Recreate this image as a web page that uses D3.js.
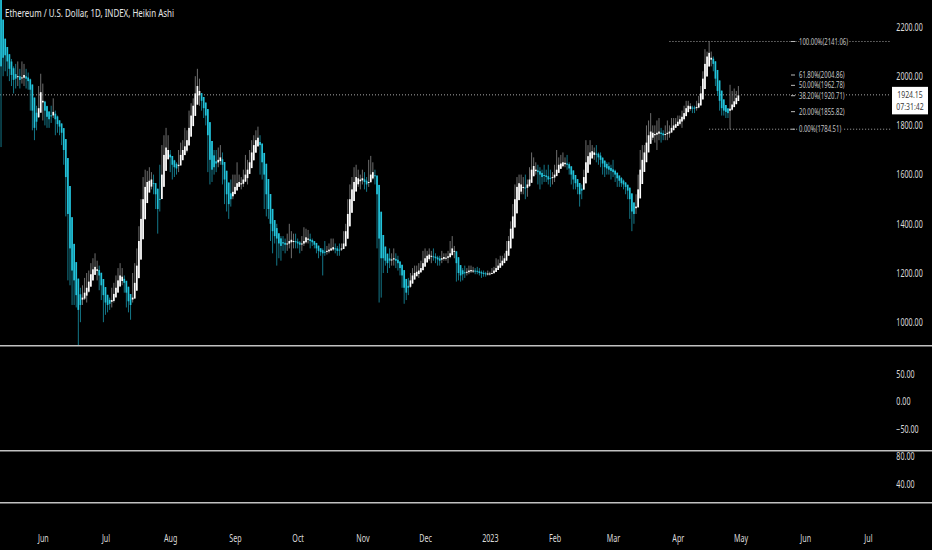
<!DOCTYPE html>
<html>
<head>
<meta charset="utf-8">
<script src="https://cdn.jsdelivr.net/npm/d3@7"></script>
<style>
  html, body { margin: 0; padding: 0; background: #000; }
  svg { display: block; }
</style>
</head>
<body>
<div id="chart"></div>
<script>
// ==============================
// DATA (Heikin Ashi daily, 2022-05-12 .. 2023-04-30)
// ==============================
const TITLE = "Ethereum / U.S. Dollar, 1D, INDEX, Heikin Ashi";
const FIRST_DAY = Date.UTC(2022, 4, 12);
const firstOpen = 2420;

const haClose = [
  // May 12-31
  2040, 2075, 2085, 2060, 2030, 2005, 1985, 1990, 2000, 1985, 1995, 2005, 1990, 1980, 1945, 1860, 1790, 1815, 1870, 1935,
  // Jun
  1900, 1860, 1835, 1825, 1840, 1855, 1825, 1805, 1795, 1770, 1700, 1590, 1440, 1300, 1210, 1170, 1110, 1050, 1070, 1100,
  1120, 1140, 1165, 1195, 1215, 1225, 1215, 1190, 1150, 1110,
  // Jul
  1080, 1070, 1075, 1090, 1115, 1140, 1170, 1190, 1185, 1160, 1120, 1085, 1070, 1100, 1160, 1230, 1330, 1420, 1500, 1550,
  1570, 1575, 1580, 1565, 1520, 1460, 1500, 1600, 1680, 1710, 1700,
  // Aug
  1670, 1640, 1630, 1625, 1640, 1680, 1700, 1715, 1740, 1790, 1840, 1880, 1930, 1960, 1940, 1900, 1870, 1840, 1760, 1660,
  1620, 1630, 1645, 1660, 1670, 1640, 1580, 1520, 1480, 1500, 1530,
  // Sep
  1550, 1565, 1570, 1565, 1580, 1600, 1620, 1650, 1690, 1720, 1740, 1750, 1720, 1650, 1600, 1520, 1460, 1400, 1370, 1350,
  1340, 1320, 1310, 1320, 1315, 1320, 1330, 1335, 1330, 1325,
  // Oct
  1320, 1315, 1320, 1330, 1345, 1340, 1330, 1325, 1315, 1300, 1290, 1285, 1280, 1285, 1290, 1295, 1300, 1305, 1300, 1290,
  1295, 1300, 1320, 1370, 1440, 1500, 1540, 1570, 1590, 1585, 1580,
  // Nov
  1585, 1570, 1560, 1570, 1600, 1610, 1595, 1520, 1340, 1260, 1260, 1250, 1240, 1250, 1255, 1260, 1250, 1240, 1220, 1190,
  1140, 1120, 1140, 1170, 1190, 1200, 1205, 1210, 1220, 1240,
  // Dec
  1260, 1270, 1275, 1270, 1265, 1260, 1255, 1250, 1260, 1265, 1262, 1268, 1280, 1300, 1290, 1240, 1200, 1190, 1195, 1200,
  1205, 1210, 1212, 1210, 1208, 1205, 1200, 1198, 1196, 1195, 1198,
  // Jan
  1198, 1200, 1210, 1220, 1230, 1240, 1250, 1260, 1290, 1330, 1380, 1430, 1500, 1550, 1565, 1560, 1550, 1545, 1560, 1580,
  1620, 1635, 1620, 1610, 1600, 1590, 1595, 1590, 1580, 1585, 1590,
  // Feb
  1600, 1620, 1640, 1645, 1650, 1648, 1640, 1625, 1600, 1580, 1565, 1550, 1520, 1535, 1590, 1650, 1675, 1690, 1695, 1690,
  1685, 1670, 1660, 1645, 1630, 1625, 1620, 1615,
  // Mar
  1610, 1600, 1585, 1575, 1565, 1560, 1550, 1535, 1500, 1450, 1440, 1470, 1540, 1620, 1660, 1690, 1730, 1760, 1775, 1770,
  1765, 1770, 1775, 1765, 1760, 1765, 1770, 1775, 1790, 1800, 1805,
  // Apr
  1815, 1825, 1835, 1850, 1870, 1880, 1878, 1872, 1868, 1875, 1890, 1930, 1990, 2050, 2080, 2095, 2075, 2050, 1990, 1940,
  1900, 1870, 1860, 1855, 1850, 1868, 1885, 1898, 1912, 1922
];

const haHigh = [
  2320, 2150, 2140, 2110, 2090, 2070, 2040, 2050, 2060, 2030, 2060, 2050, 2030, 2015, 1990, 1930, 1840, 1880, 1960, 2010,
  1970, 1900, 1880, 1850, 1880, 1910, 1860, 1840, 1820, 1800, 1740, 1620, 1480, 1320, 1260, 1200, 1140, 1090, 1140, 1150,
  1180, 1200, 1210, 1240, 1260, 1280, 1250, 1230, 1180, 1140,
  1110, 1090, 1100, 1140, 1160, 1190, 1220, 1240, 1220, 1190, 1150, 1110, 1100, 1200, 1240, 1300, 1390, 1500, 1590, 1620,
  1615, 1630, 1610, 1600, 1560, 1490, 1640, 1720, 1760, 1790, 1760,
  1700, 1660, 1660, 1650, 1700, 1730, 1740, 1790, 1780, 1860, 1890, 1910, 2000, 2030, 1990, 1930, 1900, 1870, 1790, 1690,
  1660, 1700, 1700, 1710, 1720, 1690, 1610, 1550, 1520, 1580, 1600,
  1600, 1650, 1600, 1590, 1620, 1680, 1660, 1700, 1740, 1760, 1780, 1795, 1760, 1680, 1630, 1550, 1480, 1430, 1400, 1390,
  1400, 1360, 1350, 1350, 1340, 1360, 1400, 1370, 1360, 1360,
  1340, 1330, 1350, 1386, 1380, 1375, 1360, 1340, 1330, 1320, 1310, 1300, 1300, 1330, 1310, 1320, 1340, 1340, 1320, 1310,
  1320, 1320, 1370, 1400, 1500, 1560, 1590, 1630, 1640, 1620, 1600,
  1620, 1610, 1590, 1660, 1676, 1650, 1620, 1560, 1380, 1340, 1300, 1280, 1270, 1300, 1280, 1300, 1280, 1270, 1240, 1210,
  1160, 1150, 1180, 1200, 1220, 1230, 1230, 1240, 1250, 1290,
  1300, 1290, 1300, 1290, 1300, 1280, 1270, 1270, 1290, 1280, 1280, 1290, 1330, 1350, 1310, 1270, 1220, 1200, 1220, 1230,
  1220, 1230, 1230, 1225, 1220, 1225, 1220, 1210, 1210, 1205, 1210,
  1205, 1220, 1225, 1260, 1255, 1270, 1270, 1280, 1330, 1350, 1410, 1480, 1560, 1590, 1600, 1600, 1590, 1600, 1580, 1630,
  1690, 1670, 1650, 1640, 1630, 1620, 1640, 1620, 1640, 1620, 1610,
  1640, 1700, 1670, 1680, 1690, 1670, 1680, 1650, 1630, 1600, 1590, 1580, 1560, 1560, 1620, 1740, 1720, 1740, 1720, 1710,
  1720, 1690, 1690, 1670, 1650, 1650, 1650, 1640,
  1660, 1620, 1600, 1590, 1590, 1580, 1570, 1550, 1530, 1470, 1460, 1520, 1600, 1700, 1720, 1720, 1800, 1820, 1850, 1800,
  1800, 1820, 1830, 1790, 1780, 1800, 1820, 1800, 1830, 1830, 1830,
  1840, 1840, 1860, 1880, 1900, 1900, 1890, 1880, 1880, 1900, 1920, 1960, 2020, 2110, 2100, 2141.06, 2100, 2080, 2040, 1960,
  1940, 1890, 1880, 1880, 1870, 1965, 1940, 1950, 1940, 1960
];

const haLow = [
  1712, 2000, 2020, 2000, 1980, 1960, 1930, 1950, 1960, 1950, 1970, 1960, 1950, 1945, 1860, 1780, 1740, 1780, 1830, 1900,
  1820, 1800, 1790, 1790, 1810, 1830, 1760, 1770, 1760, 1720, 1640, 1430, 1170, 1150, 1070, 1070, 1060, 880, 1000, 1070,
  1090, 1080, 1120, 1150, 1180, 1200, 1170, 1130, 1090, 1000,
  1030, 1040, 1050, 1060, 1080, 1110, 1140, 1160, 1150, 1120, 1060, 1040, 1010, 1080, 1130, 1190, 1300, 1380, 1460, 1500,
  1520, 1540, 1540, 1520, 1460, 1360, 1450, 1560, 1640, 1680, 1660,
  1610, 1580, 1590, 1600, 1610, 1650, 1670, 1690, 1690, 1740, 1800, 1850, 1900, 1920, 1880, 1860, 1830, 1800, 1610, 1560,
  1570, 1600, 1610, 1630, 1640, 1560, 1480, 1450, 1420, 1470, 1500,
  1520, 1540, 1550, 1540, 1550, 1570, 1560, 1620, 1660, 1690, 1710, 1720, 1600, 1580, 1460, 1430, 1420, 1330, 1280, 1320,
  1230, 1260, 1250, 1290, 1280, 1290, 1300, 1260, 1300, 1300,
  1300, 1280, 1290, 1310, 1320, 1320, 1300, 1310, 1300, 1280, 1260, 1270, 1190, 1270, 1275, 1280, 1290, 1290, 1280, 1270,
  1270, 1290, 1300, 1340, 1400, 1460, 1500, 1540, 1560, 1550, 1540,
  1560, 1540, 1530, 1550, 1580, 1580, 1560, 1300, 1080, 1100, 1200, 1230, 1200, 1220, 1230, 1230, 1220, 1210, 1190, 1140,
  1075, 1090, 1110, 1140, 1170, 1180, 1190, 1180, 1200, 1220,
  1240, 1250, 1250, 1240, 1250, 1240, 1230, 1230, 1240, 1250, 1250, 1240, 1260, 1280, 1260, 1165, 1170, 1165, 1170, 1180,
  1190, 1195, 1200, 1200, 1195, 1195, 1190, 1180, 1185, 1185, 1190,
  1190, 1195, 1200, 1210, 1220, 1225, 1240, 1250, 1270, 1300, 1320, 1380, 1420, 1480, 1530, 1520, 1520, 1500, 1510, 1550,
  1600, 1610, 1600, 1560, 1540, 1560, 1570, 1570, 1560, 1550, 1560,
  1570, 1600, 1620, 1630, 1630, 1630, 1620, 1600, 1560, 1540, 1540, 1520, 1470, 1500, 1560, 1620, 1650, 1660, 1670, 1660,
  1650, 1640, 1630, 1600, 1590, 1600, 1600, 1580,
  1590, 1570, 1550, 1550, 1550, 1540, 1520, 1500, 1420, 1370, 1400, 1440, 1500, 1580, 1630, 1650, 1700, 1740, 1750, 1740,
  1730, 1700, 1740, 1730, 1740, 1740, 1740, 1750, 1770, 1780, 1790,
  1800, 1800, 1790, 1820, 1850, 1860, 1860, 1850, 1850, 1860, 1870, 1880, 1920, 1980, 2050, 2060, 2040, 2020, 1960, 1920,
  1860, 1840, 1840, 1830, 1830, 1784.51, 1860, 1880, 1890, 1900
];

// Fibonacci retracement
const fibRatios = [1, 0.618, 0.5, 0.382, 0.2, 0];
const fibPrices = [2141.06, 2004.86, 1962.78, 1920.71, 1855.82, 1784.51];
const fib100Start = Date.UTC(2023, 2, 28);
const fib0Start = Date.UTC(2023, 3, 16);

// Last price label
const lastPrice = 1924.15;
const countdown = "07:31:42";

// Axis ticks
const priceTicks = [1000, 1200, 1400, 1600, 1800, 2000, 2200];
const oscTicks = [-50, 0, 50];
const lowerTicks = [40, 80];
const monthTicks = d3.utcMonth.range(new Date(Date.UTC(2022, 5, 1)), new Date(Date.UTC(2023, 7, 1)));

// ==============================
// LAYOUT
// ==============================
const WIDTH = 932, HEIGHT = 550;
const PLOT_RIGHT = 891;
const PANE1_BOTTOM = 345.7, PANE2_BOTTOM = 450.7, PANE3_BOTTOM = 502.7;
const UP_BODY = "#ffffff", UP_WICK = "#7a7a7a";
const DOWN_BODY = "#22c3db", DOWN_WICK = "#168597";
const TEXT_COLOR = "#dcdcdc";
const FONT = "'Noto Sans', sans-serif";
const NARROW = 0.68;

const svg = d3.select("#chart")
  .append("svg")
  .attr("width", WIDTH)
  .attr("height", HEIGHT)
  .attr("viewBox", `0 0 ${WIDTH} ${HEIGHT}`)
  .style("background-color", "#000");

const x = d3.scaleUtc()
  .domain([new Date(Date.UTC(2022, 4, 11, 12)), new Date(Date.UTC(2023, 6, 11, 14))])
  .range([0, 890]);

const y = d3.scaleLinear().domain([1000, 2200]).range([322.2, 27]);
const yOsc = d3.scaleLinear().domain([-50, 50]).range([429, 374]);
const yLower = d3.scaleLinear().domain([40, 80]).range([484, 456]);

// Build Heikin Ashi candles (open = mid of previous body)
const candles = [];
haClose.forEach((c, i) => {
  const open = i === 0 ? firstOpen : (candles[i - 1].open + candles[i - 1].close) / 2;
  candles.push({
    date: new Date(FIRST_DAY + i * 864e5),
    open,
    close: c,
    high: Math.max(haHigh[i], open, c),
    low: Math.min(haLow[i], open, c)
  });
});

// Clip for main pane
svg.append("defs").append("clipPath").attr("id", "clip-main")
  .append("rect").attr("x", 0).attr("y", 0).attr("width", PLOT_RIGHT).attr("height", PANE1_BOTTOM);

const g = svg.append("g").attr("clip-path", "url(#clip-main)");

// Current price dotted line
g.append("line")
  .attr("x1", 0).attr("x2", PLOT_RIGHT)
  .attr("y1", y(lastPrice)).attr("y2", y(lastPrice))
  .attr("stroke", "#a8a8a8").attr("stroke-width", 1)
  .attr("stroke-dasharray", "1,2");

// Candles
const candle = g.append("g").selectAll("g")
  .data(candles)
  .enter().append("g");

candle.append("line")
  .attr("x1", d => x(d.date)).attr("x2", d => x(d.date))
  .attr("y1", d => y(d.high)).attr("y2", d => y(d.low))
  .attr("stroke", d => d.close >= d.open ? UP_WICK : DOWN_WICK)
  .attr("stroke-width", 0.9);

candle.append("rect")
  .attr("x", d => x(d.date) - 0.85)
  .attr("width", 1.7)
  .attr("y", d => y(Math.max(d.open, d.close)))
  .attr("height", d => Math.max(1, Math.abs(y(d.open) - y(d.close))))
  .attr("fill", d => d.close >= d.open ? UP_BODY : DOWN_BODY);

// Fibonacci levels
const fib = svg.append("g");
const fmt = d3.format(".2f");

[[fibPrices[0], fib100Start], [fibPrices[fibPrices.length - 1], fib0Start]].forEach(([p, start]) => {
  fib.append("line")
    .attr("x1", x(new Date(start))).attr("x2", PLOT_RIGHT)
    .attr("y1", y(p)).attr("y2", y(p))
    .attr("stroke", "#a8a8a8").attr("stroke-width", 1)
    .attr("stroke-dasharray", "1,2");
});

fibRatios.forEach((r, i) => {
  const yy = y(fibPrices[i]);
  fib.append("line")
    .attr("x1", 791).attr("x2", 795)
    .attr("y1", yy).attr("y2", yy)
    .attr("stroke", "#bbbbbb").attr("stroke-width", 1);
  fib.append("text")
    .attr("transform", `translate(799,${yy}) scale(0.66,1)`)
    .attr("dy", "0.34em")
    .text(`${fmt(r * 100)}%(${fmt(fibPrices[i])})`)
    .attr("font-size", "9px")
    .attr("fill", "#c4c4c4")
    .attr("stroke", "#000").attr("stroke-width", 3)
    .attr("paint-order", "stroke")
    .style("font-family", FONT);
});

// Pane separators
[PANE1_BOTTOM, PANE2_BOTTOM, PANE3_BOTTOM].forEach(yy => {
  svg.append("line")
    .attr("x1", 0).attr("x2", WIDTH)
    .attr("y1", yy).attr("y2", yy)
    .attr("stroke", "#c2c2c2").attr("stroke-width", 1.6);
});

// Right axes
function axisRight(scale, ticks) {
  const a = svg.append("g")
    .attr("transform", `translate(895,0)`)
    .call(d3.axisRight(scale).tickValues(ticks).tickFormat(fmt).tickSize(0).tickPadding(2));
  a.select(".domain").remove();
  a.selectAll("text")
    .attr("transform", `scale(${NARROW},1)`)
    .attr("fill", TEXT_COLOR)
    .attr("font-size", "10.5px")
    .style("font-family", FONT);
  return a;
}
axisRight(y, priceTicks);
axisRight(yOsc, oscTicks);
axisRight(yLower, lowerTicks);

// Last price box
const yp = y(lastPrice);
svg.append("rect")
  .attr("x", 892).attr("y", yp - 8)
  .attr("width", 36).attr("height", 27.5)
  .attr("fill", "#ffffff");
[[lastPrice.toFixed(2), yp], [countdown, yp + 12.5]].forEach(([t, yy]) => {
  svg.append("text")
    .attr("transform", `translate(910,${yy}) scale(0.75,1)`)
    .attr("dy", "0.34em")
    .attr("text-anchor", "middle")
    .text(t)
    .attr("font-size", "9.2px")
    .attr("fill", "#3a3a3a")
    .style("font-family", FONT);
});

// Time axis
const xa = svg.append("g")
  .attr("transform", `translate(0,534.5)`)
  .call(d3.axisBottom(x)
    .tickValues(monthTicks)
    .tickFormat(d => d.getUTCMonth() === 0 ? d3.utcFormat("%Y")(d) : d3.utcFormat("%b")(d))
    .tickSize(0).tickPadding(0));
xa.select(".domain").remove();
xa.selectAll("text")
  .attr("transform", `scale(${NARROW},1)`)
  .attr("fill", TEXT_COLOR)
  .attr("font-size", "10.5px")
  .style("font-family", FONT);

// Title
svg.append("text")
  .attr("x", 5).attr("y", 17)
  .attr("textLength", 169)
  .attr("lengthAdjust", "spacingAndGlyphs")
  .text(TITLE)
  .attr("font-size", "10.5px")
  .attr("fill", "#e6e6e6")
  .style("font-family", FONT);
</script>
</body>
</html>
